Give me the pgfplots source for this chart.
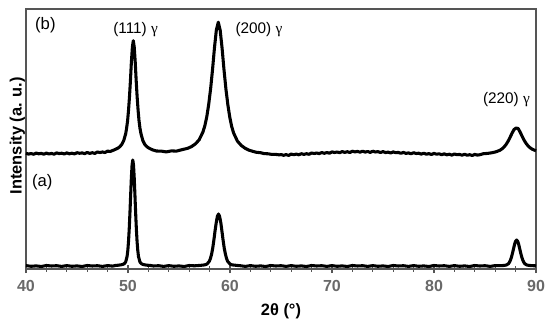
\documentclass[border=0pt]{standalone}
\usepackage{fontspec}
\setmainfont{Liberation Sans}
\newfontfamily\greekserif{Liberation Serif}
\usepackage{pgfplots}
\pgfplotsset{compat=1.18}
\definecolor{axisgray}{RGB}{85,85,85}
\definecolor{ticklab}{RGB}{105,105,105}

\begin{document}
\begin{tikzpicture}
\begin{axis}[
  scale only axis, width=382.5pt, height=195pt,
  xmin=40, xmax=90, ymin=0, ymax=260,
  xtick={40,50,...,90}, minor x tick num=4,
  xtick pos=left, ytick=\empty,
  xtick align=center,
  major tick length=6pt, minor tick length=4pt,
  axis line style={axisgray, line width=0.8pt},
  every tick/.style={axisgray, line width=0.8pt},
  tick label style={font=\fontsize{12}{14}\selectfont\bfseries, text=ticklab},
  xticklabel style={yshift=-2.2pt},
  /pgf/number format/assume math mode=true,
  xlabel={2θ (°)}, ylabel={Intensity (a. u.)},
  label style={font=\fontsize{12.3}{14}\selectfont\bfseries},
  xlabel style={at={(axis description cs:0.5,-0.1615)}, anchor=center},
  ylabel style={at={(axis description cs:-0.0167,0.513)}, anchor=center},
  clip=false,
]
\coordinate (sw) at (rel axis cs:0,0);
\coordinate (ne) at (rel axis cs:1,1);

% (b)
\addplot[black, line width=2.3pt, line join=round, no marks] coordinates {
(40.00,115.8) (40.25,114.9) (40.50,115.5) (40.75,114.7) (41.00,115.9) (41.25,115.2)
(41.50,115.6) (41.75,114.8) (42.00,115.9) (42.25,115.0) (42.50,115.6) (42.75,114.8)
(43.00,116.1) (43.25,115.4) (43.50,115.8) (43.75,115.0) (44.00,116.1) (44.25,115.2)
(44.50,115.8) (44.75,115.1) (45.00,116.3) (45.25,115.7) (45.50,116.1) (45.75,115.4)
(46.00,116.5) (46.25,115.6) (46.50,116.3) (46.75,115.6) (47.00,117.0) (47.25,116.5)
(47.50,117.0) (47.75,116.5) (48.00,117.9) (48.25,117.5) (48.645,119.1) (49.02,120.9)
(49.21,122.4) (49.395,124.7) (49.58,128.4) (49.77,135.1) (49.86,140.6) (49.96,148.2)
(50.05,158.6) (50.145,172.1) (50.24,188.6) (50.33,206.7) (50.43,222.0) (50.52,228.3)
(50.61,222.1) (50.71,206.8) (50.80,188.7) (50.895,172.2) (50.99,158.7) (51.08,148.3)
(51.17,140.9) (51.27,135.4) (51.46,128.3) (51.645,124.6) (51.83,122.5) (52.02,121.1)
(52.395,119.2) (52.77,118.0) (53.25,117.9) (53.75,117.1) (54.25,118.1) (54.75,117.9)
(55.25,119.2) (55.85,120.7) (56.225,122.4) (56.6,125.0) (56.975,129.2) (57.35,137.1)
(57.54,143.5) (57.725,152.3) (57.91,164.5) (58.1,180.3) (58.29,199.7) (58.475,221.0)
(58.66,238.8) (58.85,246.8) (59.04,238.6) (59.225,220.7) (59.41,199.4) (59.6,180.0)
(59.79,164.2) (59.975,152.0) (60.16,142.7) (60.35,136.1) (60.725,127.9) (61.1,123.6)
(61.475,120.8) (61.85,118.9) (62.25,117.6) (62.6,116.7) (63.0,116.3) (63.35,115.4)
(63.75,115.2) (64.1,114.6) (64.5,114.6) (64.85,114.1)
(65.00,114.5) (65.25,113.7) (65.50,114.4) (65.75,113.6) (66.00,114.9) (66.25,114.3)
(66.50,114.9) (66.75,114.2) (67.00,115.3) (67.25,114.6) (67.50,115.3) (67.75,114.7)
(68.00,116.0) (68.25,115.5) (68.50,116.0) (68.75,115.4) (69.00,116.5) (69.25,115.7)
(69.50,116.5) (69.75,115.8) (70.00,117.1) (70.25,116.5) (70.50,117.0) (70.75,116.3)
(71.00,117.4) (71.25,116.6) (71.50,117.3) (71.75,116.5) (72.00,117.8) (72.25,117.1)
(72.50,117.6) (72.75,116.8) (73.00,117.8) (73.25,116.9) (73.50,117.5) (73.75,116.6)
(74.00,117.8) (74.25,117.0) (74.50,117.4) (74.75,116.5) (75.00,117.4) (75.25,116.4)
(75.50,116.9) (75.75,116.0) (76.00,117.1) (76.25,116.3) (76.50,116.6) (76.75,115.7)
(77.00,116.6) (77.25,115.6) (77.50,116.1) (77.75,115.2) (78.00,116.3) (78.25,115.5)
(78.50,115.8) (78.75,114.9) (79.00,115.8) (79.25,114.8) (79.50,115.4) (79.75,114.5)
(80.00,115.6) (80.25,114.8) (80.50,115.2) (80.75,114.3) (81.00,115.2) (81.25,114.2)
(81.50,114.8) (81.75,113.9) (82.00,115.0) (82.25,114.3) (82.50,114.6) (82.75,113.8)
(83.00,114.7) (83.25,113.8) (83.50,114.3) (83.75,113.5) (84.00,114.6) (84.25,113.9)
(84.50,114.3) (84.85,115.3) (85.25,115.6) (85.65,116.2) (86.05,117.1) (86.45,118.7)
(86.65,120.0) (86.85,121.8) (87.05,124.3) (87.25,127.5) (87.45,131.5) (87.65,135.8)
(87.85,139.5) (88.05,141.0) (88.25,140.5) (88.45,136.8) (88.65,132.5) (88.85,128.5)
(89.05,125.3) (89.25,122.8) (89.45,121.0) (89.65,119.7) (90.0,118.2)
};

% (a)
\addplot[black, line width=2.3pt, line join=round, no marks] coordinates {
(40.0,3.4) (40.5,2.7) (41.0,3.1) (41.5,2.5) (42.0,3.5) (42.5,3.0) (43.0,3.3) (43.5,2.6)
(44.0,3.4) (44.5,2.7) (45.0,3.1) (45.5,2.5) (46.0,3.5) (46.5,3.0) (47.0,3.3) (47.5,2.6)
(48.0,3.4) (48.5,2.9) (48.79,3.6) (49.07,3.8) (49.35,4.25) (49.49,4.6) (49.63,5.3)
(49.77,7.0) (49.91,12.5) (49.98,18.4) (50.05,27.4) (50.12,40.0) (50.19,56.0) (50.26,74.0)
(50.33,91.3) (50.40,104.1) (50.47,109) (50.54,104.1) (50.61,91.3) (50.68,74.0) (50.75,56.0)
(50.82,40.0) (50.89,27.4) (50.96,18.4) (51.03,12.5) (51.17,7.0) (51.31,5.3) (51.45,4.6)
(51.59,4.25) (51.87,3.8) (52.15,3.6) (52.5,3.0) (53.0,3.3) (53.5,2.6) (54.0,3.4) (54.5,2.7)
(55.0,3.1) (55.5,2.5) (56.0,3.5) (56.5,3.2) (57.07,3.6) (57.52,4.1) (57.75,5.0) (57.97,7.7)
(58.08,10.5) (58.20,15.0) (58.31,21.1) (58.42,29) (58.53,37.8) (58.65,46.3) (58.76,52.6)
(58.87,55) (58.98,52.6) (59.10,46.3) (59.21,37.8) (59.32,29) (59.43,21.1) (59.55,15.0)
(59.66,10.5) (59.77,7.7) (60.0,5.0) (60.22,4.1) (60.67,3.6) (61.0,3.3) (61.5,2.6)
(62.0,3.4) (62.5,2.7) (63.0,3.1) (63.5,2.5) (64.0,3.5) (64.5,3.0) (65.0,3.3) (65.5,2.6)
(66.0,3.4) (66.5,2.7) (67.0,3.1) (67.5,2.5) (68.0,3.5) (68.5,3.0) (69.0,3.3) (69.5,2.6)
(70.0,3.4) (70.5,2.7) (71.0,3.1) (71.5,2.5) (72.0,3.5) (72.5,3.0) (73.0,3.3) (73.5,2.6)
(74.0,3.4) (74.5,2.7) (75.0,3.1) (75.5,2.5) (76.0,3.5) (76.5,3.0) (77.0,3.3) (77.5,2.6)
(78.0,3.4) (78.5,2.7) (79.0,3.1) (79.5,2.5) (80.0,3.5) (80.5,3.0) (81.0,3.3) (81.5,2.6)
(82.0,3.4) (82.5,2.7) (83.0,3.1) (83.5,2.5) (84.0,3.5) (84.5,3.0) (85.0,3.3) (85.5,2.6)
(86.0,3.4) (86.5,3.3) (86.9,3.6) (87.1,4.0) (87.3,5.3) (87.4,6.8) (87.5,9.0) (87.6,12.1)
(87.7,16) (87.8,20.4) (87.9,24.7) (88.0,27.8) (88.1,29) (88.2,27.8) (88.3,24.7) (88.4,20.4)
(88.5,16) (88.6,12.1) (88.7,9.0) (88.8,6.8) (88.9,5.3) (89.1,4.0) (89.3,3.6) (89.7,3.3)
(90.0,3.2)
};

\node[font=\fontsize{12.5}{14}\selectfont] at (axis cs:41.9,244) {(b)};
\node[font=\fontsize{12.5}{14}\selectfont] at (axis cs:41.6,87) {(a)};
\node[font=\fontsize{11.5}{14}\selectfont] at (axis cs:50.74,239) {(111) {\greekserif γ}};
\node[font=\fontsize{11.5}{14}\selectfont] at (axis cs:62.84,239) {(200) {\greekserif γ}};
\node[font=\fontsize{11.5}{14}\selectfont] at (axis cs:87.1,169) {(220) {\greekserif γ}};
\end{axis}
\pgfresetboundingbox
\path ([shift={(-19.5pt,-42.75pt)}]sw) rectangle ([shift={(10.5pt,6.75pt)}]ne);
\end{tikzpicture}
\end{document}
